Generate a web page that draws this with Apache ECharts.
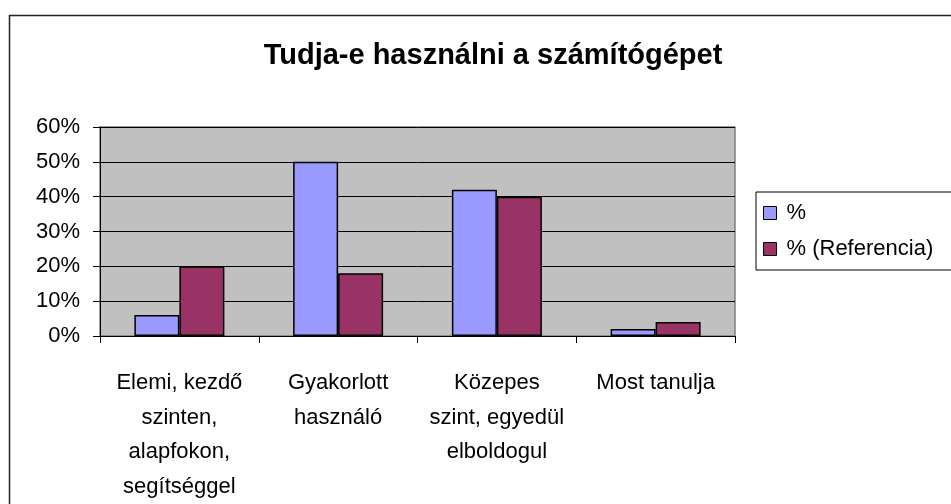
<!DOCTYPE html>
<html>
<head>
<meta charset="utf-8">
<script src="https://cdn.jsdelivr.net/npm/echarts@6/dist/echarts.min.js"></script>
<style>
html,body{margin:0;padding:0;background:#fff;}
#chart{width:951px;height:504px;}
</style>
</head>
<body>
<div id="chart"></div>
<script>
var chartTitle = 'Tudja-e használni a számítógépet';
var categories = ['Elemi, kezdő\nszinten,\nalapfokon,\nsegítséggel', 'Gyakorlott\nhasználó', 'Közepes\nszint, egyedül\nelboldogul', 'Most tanulja'];
var seriesNames = ['%', '% (Referencia)'];
var valuesPct = [0.06, 0.50, 0.42, 0.02];
var valuesRef = [0.20, 0.18, 0.40, 0.04];
var yTicks = [0, 0.1, 0.2, 0.3, 0.4, 0.5, 0.6];

var FONT = '"Liberation Sans", Arial, sans-serif';
var chart = echarts.init(document.getElementById('chart'), null, {renderer: 'canvas'});
chart.setOption({
  backgroundColor: '#ffffff',
  animation: false,
  graphic: [{
    type: 'rect',
    shape: {x: 9.5, y: 15.5, width: 1000, height: 560},
    style: {fill: 'none', stroke: '#222', lineWidth: 1.5},
    silent: true, z: -10
  }],
  title: {
    text: chartTitle,
    left: 488,
    textAlign: 'center',
    top: 36,
    textStyle: {fontFamily: FONT, fontSize: 29, fontWeight: 'bold', color: '#000'}
  },
  legend: {
    orient: 'vertical',
    left: 756,
    top: 192,
    padding: [10, 60, 10, 7],
    itemGap: 14,
    itemWidth: 13,
    itemHeight: 13,
    borderColor: '#000',
    borderWidth: 1,
    icon: 'rect',
    itemStyle: {borderColor: '#000', borderWidth: 1},
    textStyle: {fontFamily: FONT, fontSize: 22, color: '#000', lineHeight: 22, padding: [0, 0, 0, 5]},
    data: seriesNames
  },
  grid: {
    left: 100, right: 216, top: 127, bottom: 168,
    show: true, backgroundColor: '#C0C0C0', borderColor: '#808080', borderWidth: 1.5
  },
  xAxis: {
    type: 'category',
    data: categories,
    axisLine: {show: true, lineStyle: {color: '#000', width: 1}},
    axisTick: {show: true, length: 7, lineStyle: {color: '#000'}},
    axisLabel: {fontFamily: FONT, fontSize: 22, color: '#000', lineHeight: 34.5, margin: 30, interval: 0, align: 'center'}
  },
  yAxis: {
    type: 'value',
    min: yTicks[0],
    max: yTicks[yTicks.length - 1],
    interval: yTicks[1] - yTicks[0],
    axisLine: {show: true, lineStyle: {color: '#000', width: 1}},
    axisTick: {show: true, length: 7, lineStyle: {color: '#000'}},
    splitLine: {show: true, lineStyle: {color: '#000', width: 1}},
    axisLabel: {
      fontFamily: FONT, fontSize: 22, color: '#000', margin: 20,
      formatter: function (v) { return Math.round(v * 100) + '%'; }
    }
  },
  series: [{
    name: seriesNames[0],
    type: 'bar',
    data: valuesPct,
    barWidth: 45,
    barGap: '0%',
    itemStyle: {color: '#9999FF', borderColor: '#000', borderWidth: 1.5}
  }, {
    name: seriesNames[1],
    type: 'bar',
    data: valuesRef,
    barWidth: 45,
    barGap: '0%',
    itemStyle: {color: '#993366', borderColor: '#000', borderWidth: 1.5}
  }]
});
</script>
</body>
</html>
